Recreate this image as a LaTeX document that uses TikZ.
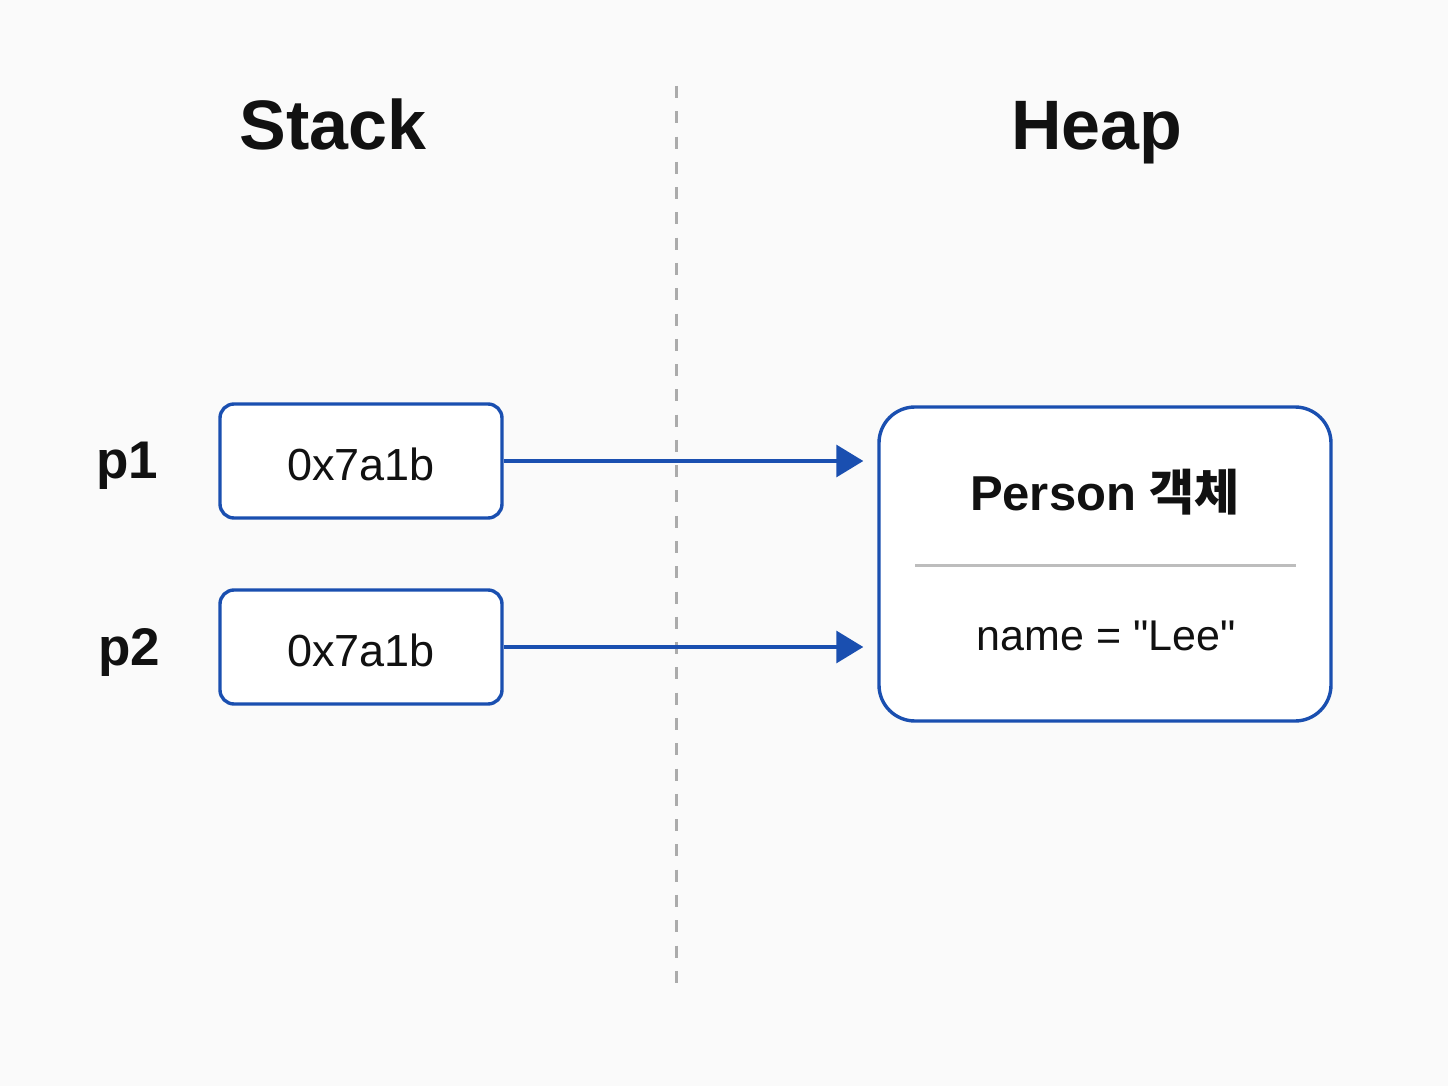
\documentclass[tikz,border=0pt]{standalone}
\usepackage{fontspec}
\setmainfont{Liberation Sans}
\newfontfamily\krfont{Noto Sans CJK KR}
\usetikzlibrary{arrows.meta}
\newcommand\straightquote{\XeTeXglyph\XeTeXcharglyph34\relax}
\definecolor{bgc}{HTML}{FAFAFA}
\definecolor{bluec}{HTML}{1A4FB0}
\definecolor{sepc}{HTML}{BDBDBD}
\definecolor{dashc}{HTML}{ABABAB}
\definecolor{txt}{HTML}{111111}
\tikzset{
  title/.style={font=\fontsize{35}{40}\selectfont\bfseries, text=txt, anchor=base, inner sep=0pt},
  varlabel/.style={font=\fontsize{26.5}{30}\selectfont\bfseries, text=txt, anchor=base, inner sep=0pt},
  ptrbox/.style={draw=bluec, line width=1.7pt, rounded corners=7pt, fill=white,
    minimum width=141pt, minimum height=57pt, inner sep=0pt},
  ptrtext/.style={font=\fontsize{22.5}{26}\selectfont, text=txt, anchor=base, inner sep=0pt},
  objbox/.style={draw=bluec, line width=1.7pt, rounded corners=18pt, fill=white,
    minimum width=226pt, minimum height=157pt, inner sep=0pt},
  objtitle/.style={font=\fontsize{24.5}{28}\selectfont\bfseries, text=txt, anchor=base, inner sep=0pt},
  objfield/.style={font=\fontsize{21.5}{24}\selectfont, text=txt, anchor=base, inner sep=0pt},
  ptrarrow/.style={draw=bluec, line width=1.6pt, -{Triangle[length=13.5pt,width=16pt]}, shorten >=7pt},
  divider/.style={draw=dashc, line width=1.5pt, dash pattern=on 6pt off 6.64pt},
  sepline/.style={draw=sepc, line width=1.5pt}
}
\begin{document}
\begin{tikzpicture}[x=0.5pt,y=-0.5pt]
  \fill[bgc] (0,0) rectangle (1448,1086);
  \useasboundingbox (0,0) rectangle (1448,1086);

  \coordinate (divtop) at (676,86);
  \coordinate (divbot) at (676,983);
  \draw[divider] (divtop) -- (divbot);

  \node[title] (stack) at (333,150) {Stack};
  \node[title] (heap) at (1097,150) {Heap};

  \node[varlabel] (p1) at (127,478) {p1};
  \node[varlabel] (p2) at (129,665) {p2};

  \node[ptrbox] (b1) at (361,461) {};
  \node[ptrbox] (b2) at (361,647) {};
  \node[ptrtext] (t1) at (361,480) {0x7a1b};
  \node[ptrtext] (t2) at (361,666) {0x7a1b};

  \node[objbox] (obj) at (1105,564) {};
  \node[objtitle] (otitle) at (1105,510) {Person {\krfont 객체}};
  \coordinate (sepL) at (915,565);
  \coordinate (sepR) at (1296,565);
  \draw[sepline] (sepL) -- (sepR);
  \node[objfield] (ofield) at (1106,650) {name = \straightquote Lee\straightquote};

  \draw[ptrarrow] (b1.east) -- (b1.east -| obj.west);
  \draw[ptrarrow] (b2.east) -- (b2.east -| obj.west);
\end{tikzpicture}
\end{document}
